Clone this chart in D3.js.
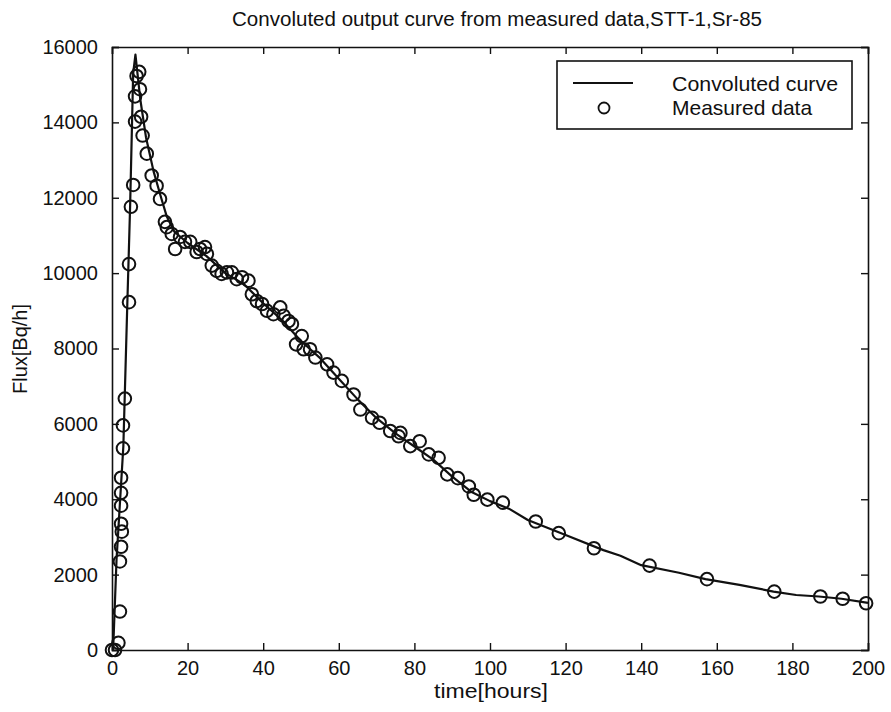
<html>
  <head>
<script src="https://cdnjs.cloudflare.com/ajax/libs/d3/7.2.1/d3.min.js"></script>
<style>
  body { margin: 0; background: #fff; }
  text { font-family: "Liberation Sans", Arial, sans-serif; fill: #111; }
</style>
  </head>
<body>
  <div class="chart"></div>
</body>
</html>

<script>
const width = 891;
const height = 712;

// measured data (hours, Bq/h)
const measTime = [0, 0.8, 1.7, 2.1, 2.1, 2.4, 2.6, 2.4, 2.4, 2.4, 2.4, 2.9, 2.9, 3.4, 4.5, 4.5, 5.0, 5.6, 6.1, 6.1,
  6.5, 7.2, 7.4, 7.7, 8.1, 9.2, 10.5, 11.8, 12.7, 14.0, 14.5, 15.8, 16.7, 18.0, 19.3, 20.7, 22.4, 23.3, 24.6, 25.1,
  26.4, 27.7, 29.0, 30.4, 31.7, 33.0, 34.4, 36.1, 37.0, 38.3, 39.7, 41.0, 42.7, 44.5, 45.4, 46.7, 47.6, 48.7, 50.2, 50.7,
  52.4, 53.8, 56.9, 58.6, 60.8, 63.9, 65.7, 68.8, 70.8, 73.6, 75.8, 76.3, 78.9, 81.4, 83.8, 86.4, 88.7, 91.5, 94.4, 95.7,
  99.3, 103.4, 112.1, 118.2, 127.5, 142.2, 157.4, 175.2, 187.4, 193.3, 199.5];
const measFlux = [0, 0, 190, 1020, 2350, 2740, 3140, 3350, 3830, 4170, 4570, 5350, 5960, 6670, 9230, 10240, 11760, 12340, 14020, 14690,
  15230, 15340, 14880, 14150, 13650, 13170, 12590, 12320, 11970, 11360, 11220, 11040, 10640, 10960, 10830, 10830, 10560, 10640, 10690, 10510,
  10200, 10060, 9980, 10020, 10020, 9840, 9890, 9800, 9440, 9260, 9180, 9000, 8910, 9090, 8870, 8730, 8650, 8110, 8330, 7980,
  7980, 7760, 7580, 7360, 7140, 6780, 6380, 6160, 6030, 5810, 5670, 5760, 5410, 5540, 5190, 5100, 4660, 4560, 4340, 4120,
  3990, 3910, 3410, 3100, 2700, 2240, 1880, 1550, 1420, 1360, 1240];

// convoluted model curve
const curveTime = [0, 0.3, 1.2, 3.0, 4.0, 4.8, 5.6, 6.2, 7.5, 9, 11, 13, 14.5, 16.5, 20, 25, 30, 35, 40, 45,
  50, 55, 60, 65, 70, 75, 80, 85, 90, 95, 100, 105, 110, 115, 120, 130, 134.5, 140, 150, 157, 166, 175, 181, 187, 193, 200];
const curveFlux = [0, 0, 2400, 5400, 9000, 11800, 15300, 15800, 14600, 13600, 12700, 12000, 11500, 11100, 10800, 10450, 10000, 9700, 9200, 8750,
  8200, 7750, 7200, 6650, 6150, 5750, 5400, 5050, 4600, 4200, 3950, 3750, 3450, 3250, 3050, 2650, 2500, 2250, 2050, 1880, 1730, 1550, 1460, 1420, 1360, 1250];

const xTicks = [0, 20, 40, 60, 80, 100, 120, 140, 160, 180, 200];
const yTicks = [0, 2000, 4000, 6000, 8000, 10000, 12000, 14000, 16000];

const margin = { top: 47, right: 23, bottom: 62, left: 112 };
const w = width - margin.left - margin.right;
const h = height - margin.top - margin.bottom;

const svg = d3.select(".chart").append("svg")
  .attr("width", width).attr("height", height);
svg.append("rect").attr("width", width).attr("height", height).attr("fill", "#fff");

const g = svg.append("g").attr("transform", `translate(${margin.left},${margin.top})`);

const x = d3.scaleLinear().domain([0, 200]).range([0, w]);
const y = d3.scaleLinear().domain([0, 16000]).range([h, 0]);

// axes, matlab style: ticks inside on all four sides
const tickLen = 7;
g.append("g").attr("transform", `translate(0,${h})`)
  .call(d3.axisBottom(x).tickValues(xTicks).tickSize(-tickLen).tickPadding(11).tickFormat(d3.format("d")));
g.append("g")
  .call(d3.axisTop(x).tickValues(xTicks).tickSize(-tickLen).tickFormat(""));
g.append("g")
  .call(d3.axisLeft(y).tickValues(yTicks).tickSize(-tickLen).tickPadding(14).tickFormat(d3.format("d")));
g.append("g").attr("transform", `translate(${w},0)`)
  .call(d3.axisRight(y).tickValues(yTicks).tickSize(-tickLen).tickFormat(""));

g.selectAll(".domain").attr("stroke", "#111").attr("stroke-width", 1.6);
g.selectAll(".tick line").attr("stroke", "#111").attr("stroke-width", 1.4);
g.selectAll(".tick text").attr("font-size", 20).attr("font-family", "Liberation Sans, Arial, sans-serif").attr("fill", "#111");

// curve
const line = d3.line().x((d, i) => x(curveTime[i])).y(d => y(d));
g.append("path")
  .datum(curveFlux)
  .attr("fill", "none")
  .attr("stroke", "#111")
  .attr("stroke-width", 2.2)
  .attr("stroke-linejoin", "round")
  .attr("d", line);

// measured circles
g.append("g").selectAll("circle")
  .data(measFlux).enter()
  .append("circle")
  .attr("cx", (d, i) => x(measTime[i]))
  .attr("cy", d => y(d))
  .attr("r", 6.3)
  .attr("fill", "none")
  .attr("stroke", "#111")
  .attr("stroke-width", 2);

// title + labels
svg.append("text")
  .attr("x", 497).attr("y", 26)
  .attr("text-anchor", "middle")
  .attr("font-size", 20)
  .attr("textLength", 530).attr("lengthAdjust", "spacingAndGlyphs")
  .text("Convoluted output curve from measured data,STT-1,Sr-85");

svg.append("text")
  .attr("x", 491).attr("y", 698)
  .attr("text-anchor", "middle")
  .attr("font-size", 21)
  .attr("textLength", 114).attr("lengthAdjust", "spacingAndGlyphs")
  .text("time[hours]");

svg.append("text")
  .attr("transform", "translate(27,349) rotate(-90)")
  .attr("text-anchor", "middle")
  .attr("font-size", 20)
  .text("Flux[Bq/h]");

// legend
const leg = svg.append("g").attr("transform", "translate(557,61)");
leg.append("rect").attr("width", 295).attr("height", 68)
  .attr("fill", "#fff").attr("stroke", "#111").attr("stroke-width", 1.6);
leg.append("line").attr("x1", 16).attr("x2", 76).attr("y1", 22).attr("y2", 22)
  .attr("stroke", "#111").attr("stroke-width", 2);
leg.append("circle").attr("cx", 47).attr("cy", 47).attr("r", 5.5)
  .attr("fill", "none").attr("stroke", "#111").attr("stroke-width", 1.8);
leg.append("text").attr("x", 115).attr("y", 30).attr("font-size", 21)
  .attr("textLength", 166).attr("lengthAdjust", "spacingAndGlyphs").text("Convoluted curve");
leg.append("text").attr("x", 115).attr("y", 54).attr("font-size", 21).text("Measured data");
</script>
